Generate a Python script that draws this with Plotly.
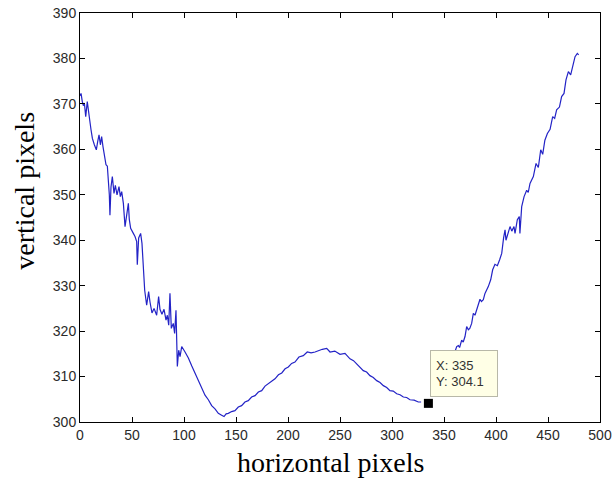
import plotly.graph_objects as go

# Traced contour: left descent, valley and hump (up to x = 328)
left_x = [0, 1, 2.2, 3.2, 4.2, 5.5, 7, 8, 9.3, 10.6, 11.9, 13.8, 15.7, 17, 18.3, 19.6, 20.8,
          22.1, 23.4, 25, 26.3, 27.2, 28.2, 28.8, 29.8, 31.1, 32.7, 34, 35.6, 37.5, 38.8,
          40.1, 41.7, 43.3, 44.9, 46.5, 47.4, 48.7, 51.3, 52.9, 54.5, 55.1, 56.4, 58.3,
          59.6, 60.9, 62.2, 64.1, 66, 67.3, 69.2, 71.2, 73.7, 75.6, 76.9, 78.8, 80.8, 82.7,
          84, 85.3, 86.5, 87.8, 89.7, 91, 92.3, 93.6, 94.9, 96.2, 97.8, 101, 104.2, 107.5,
          110.6, 114, 117, 120.2, 123.4, 126.6, 129.8, 133, 136.2, 138.5, 140.5, 142.6,
          145.8, 149, 152.2, 155.4, 158.6, 161.8, 165, 168.3, 171.5, 174.7, 177.9, 181,
          184.3, 187.5, 190.8, 194, 197.2, 200.3, 203.5, 206.7, 210.5, 214.7, 218.5, 222.2,
          226, 229, 233, 237.2, 240.4, 245, 250, 254.8, 259.6, 263, 266, 269.2, 272.4,
          275.6, 278.8, 282, 285.3, 288.5, 291.7, 294.9, 298, 301.2, 304.5, 307.7, 310.9,
          314.1, 317.3, 321.3, 325.3, 328]
left_y = [371.8, 372.3, 370.5, 369.6, 370.2, 367.2, 370.5, 368, 366.5, 364.3, 362.4, 361,
          359.9, 361.7, 363.2, 361, 362.8, 360.6, 358.8, 356.6, 356.3, 354, 350, 345.5,
          351.7, 354, 350.3, 352.1, 350, 351.8, 349.6, 350.7, 348.1, 343, 345.5, 348.1,
          344.6, 342.6, 341.5, 340.8, 339.7, 334.6, 340.5, 341.5, 339.3, 334.9, 329, 325.7,
          328.7, 326.4, 324, 325, 323.5, 327.6, 324.8, 323.7, 324.8, 322.4, 323.5, 321.3,
          328.3, 320.6, 321.7, 319.5, 324.6, 312.2, 315.8, 314.4, 316.6, 315.4, 314.1,
          312.3, 310.8, 308.9, 307.5, 305.9, 304.9, 303.6, 302.9, 301.9, 301.5, 301.2,
          301.8, 301.9, 302.3, 302.5, 303.3, 303.6, 304.4, 304.7, 305.5, 305.8, 306.6,
          306.9, 307.9, 308.4, 309.1, 309.5, 310.4, 310.8, 311.7, 312.1, 312.9, 313.2,
          314.3, 314.6, 315.4, 315.2, 315.4, 315.7, 316, 316.2, 315.4, 315.6, 314.9, 315.1,
          313.9, 313.5, 312.8, 312.2, 311.3, 311, 310.2, 309.8, 309.1, 308.7, 308, 307.6,
          306.9, 306.8, 306.2, 306, 305.5, 305.4, 304.9, 304.8, 304.4, 304.4]

# Traced contour: right ascent (from x = 360)
right_x = [360.6, 362.2, 363.8, 365, 367, 368.5, 370.2, 371.8, 373.4, 374.8, 376.6, 378.2,
           379.8, 382, 384.6, 386, 387.8, 389.4, 392.6, 394.9, 396.8, 399, 401.3, 403.5,
           405.5, 407.3, 408.7, 409.6, 411.9, 413.5, 415.2, 417.3, 418.3, 420.5, 422.4,
           423, 424.7, 427, 429.5, 431, 432.7, 435.9, 438.5, 440.7, 443, 444.9, 447, 449.4,
           452, 454.5, 456.4, 458.3, 461, 463.1, 465.4, 467.3, 469.6, 471.8, 473.7, 476,
           478.2, 479.5]
right_y = [315.5, 316.6, 316.8, 316.4, 318, 317.6, 318.8, 321, 320.3, 320.6, 321.7, 323.9,
           323.5, 325.4, 327, 326.5, 326.9, 328.3, 329.8, 331.3, 333.5, 334.7, 334.4, 335.7,
           337.1, 340.5, 342.3, 340, 341.5, 343, 342, 343, 341.5, 344.5, 345.2, 341.5,
           347.4, 349.6, 351, 350.5, 352.5, 354, 356.9, 356, 359.9, 358.9, 362, 363.5,
           364.4, 367.2, 366.8, 368.7, 369.3, 371.6, 372.3, 375.3, 377.1, 376.4, 378.2,
           380.4, 381.1, 380.8]

# Data cursor
cursor_x = 335
cursor_y = 304.1

x_ticks = [0, 50, 100, 150, 200, 250, 300, 350, 400, 450, 500]
y_ticks = [300, 310, 320, 330, 340, 350, 360, 370, 380, 390]

line_style = dict(color="#2323c6", width=1.2)

fig = go.Figure()
fig.add_trace(go.Scatter(x=left_x, y=left_y, mode="lines", line=line_style,
                         showlegend=False, hoverinfo="skip"))
fig.add_trace(go.Scatter(x=right_x, y=right_y, mode="lines", line=line_style,
                         showlegend=False, hoverinfo="skip"))
fig.add_trace(go.Scatter(x=[cursor_x], y=[cursor_y], mode="markers",
                         marker=dict(symbol="square", size=9, color="black"),
                         showlegend=False, hoverinfo="skip"))

tick_font = dict(family="Liberation Sans, Arial, sans-serif", size=14, color="#2a2a2a")
axis_common = dict(showline=True, linecolor="black", linewidth=1, mirror="ticks",
                   ticks="inside", ticklen=5, tickcolor="black", tickwidth=1,
                   showgrid=False, zeroline=False, tickfont=tick_font, automargin=False)

fig.update_xaxes(range=[0, 500], tickvals=x_ticks, ticktext=[str(v) for v in x_ticks],
                 **axis_common)
fig.update_yaxes(range=[300, 390], tickvals=y_ticks, ticktext=[str(v) for v in y_ticks],
                 **axis_common)

title_font = dict(family="Liberation Serif, Times New Roman, serif", size=28, color="black")
fig.add_annotation(text="horizontal pixels", xref="paper", yref="paper",
                   x=0.481, y=-0.098, xanchor="center", yanchor="middle",
                   showarrow=False, font=title_font)
fig.add_annotation(text="vertical pixels", xref="paper", yref="paper",
                   x=-0.106, y=0.565, xanchor="center", yanchor="middle",
                   textangle=-90, showarrow=False, font=title_font)

# Data tip box
fig.add_annotation(text=f"X: {cursor_x}<br>Y: {cursor_y}", x=cursor_x + 1.5, y=cursor_y + 1.3,
                   xref="x", yref="y", xanchor="left", yanchor="bottom", align="left",
                   showarrow=False, bgcolor="#ffffe6", bordercolor="#b8b8a8", borderwidth=1,
                   borderpad=5, width=56, height=35,
                   font=dict(family="Liberation Sans, Arial, sans-serif", size=13, color="#333"))

fig.update_layout(width=615, height=482, margin=dict(l=80, r=15, t=13, b=60, autoexpand=False),
                  paper_bgcolor="white", plot_bgcolor="white")

fig.write_html("out.html")
